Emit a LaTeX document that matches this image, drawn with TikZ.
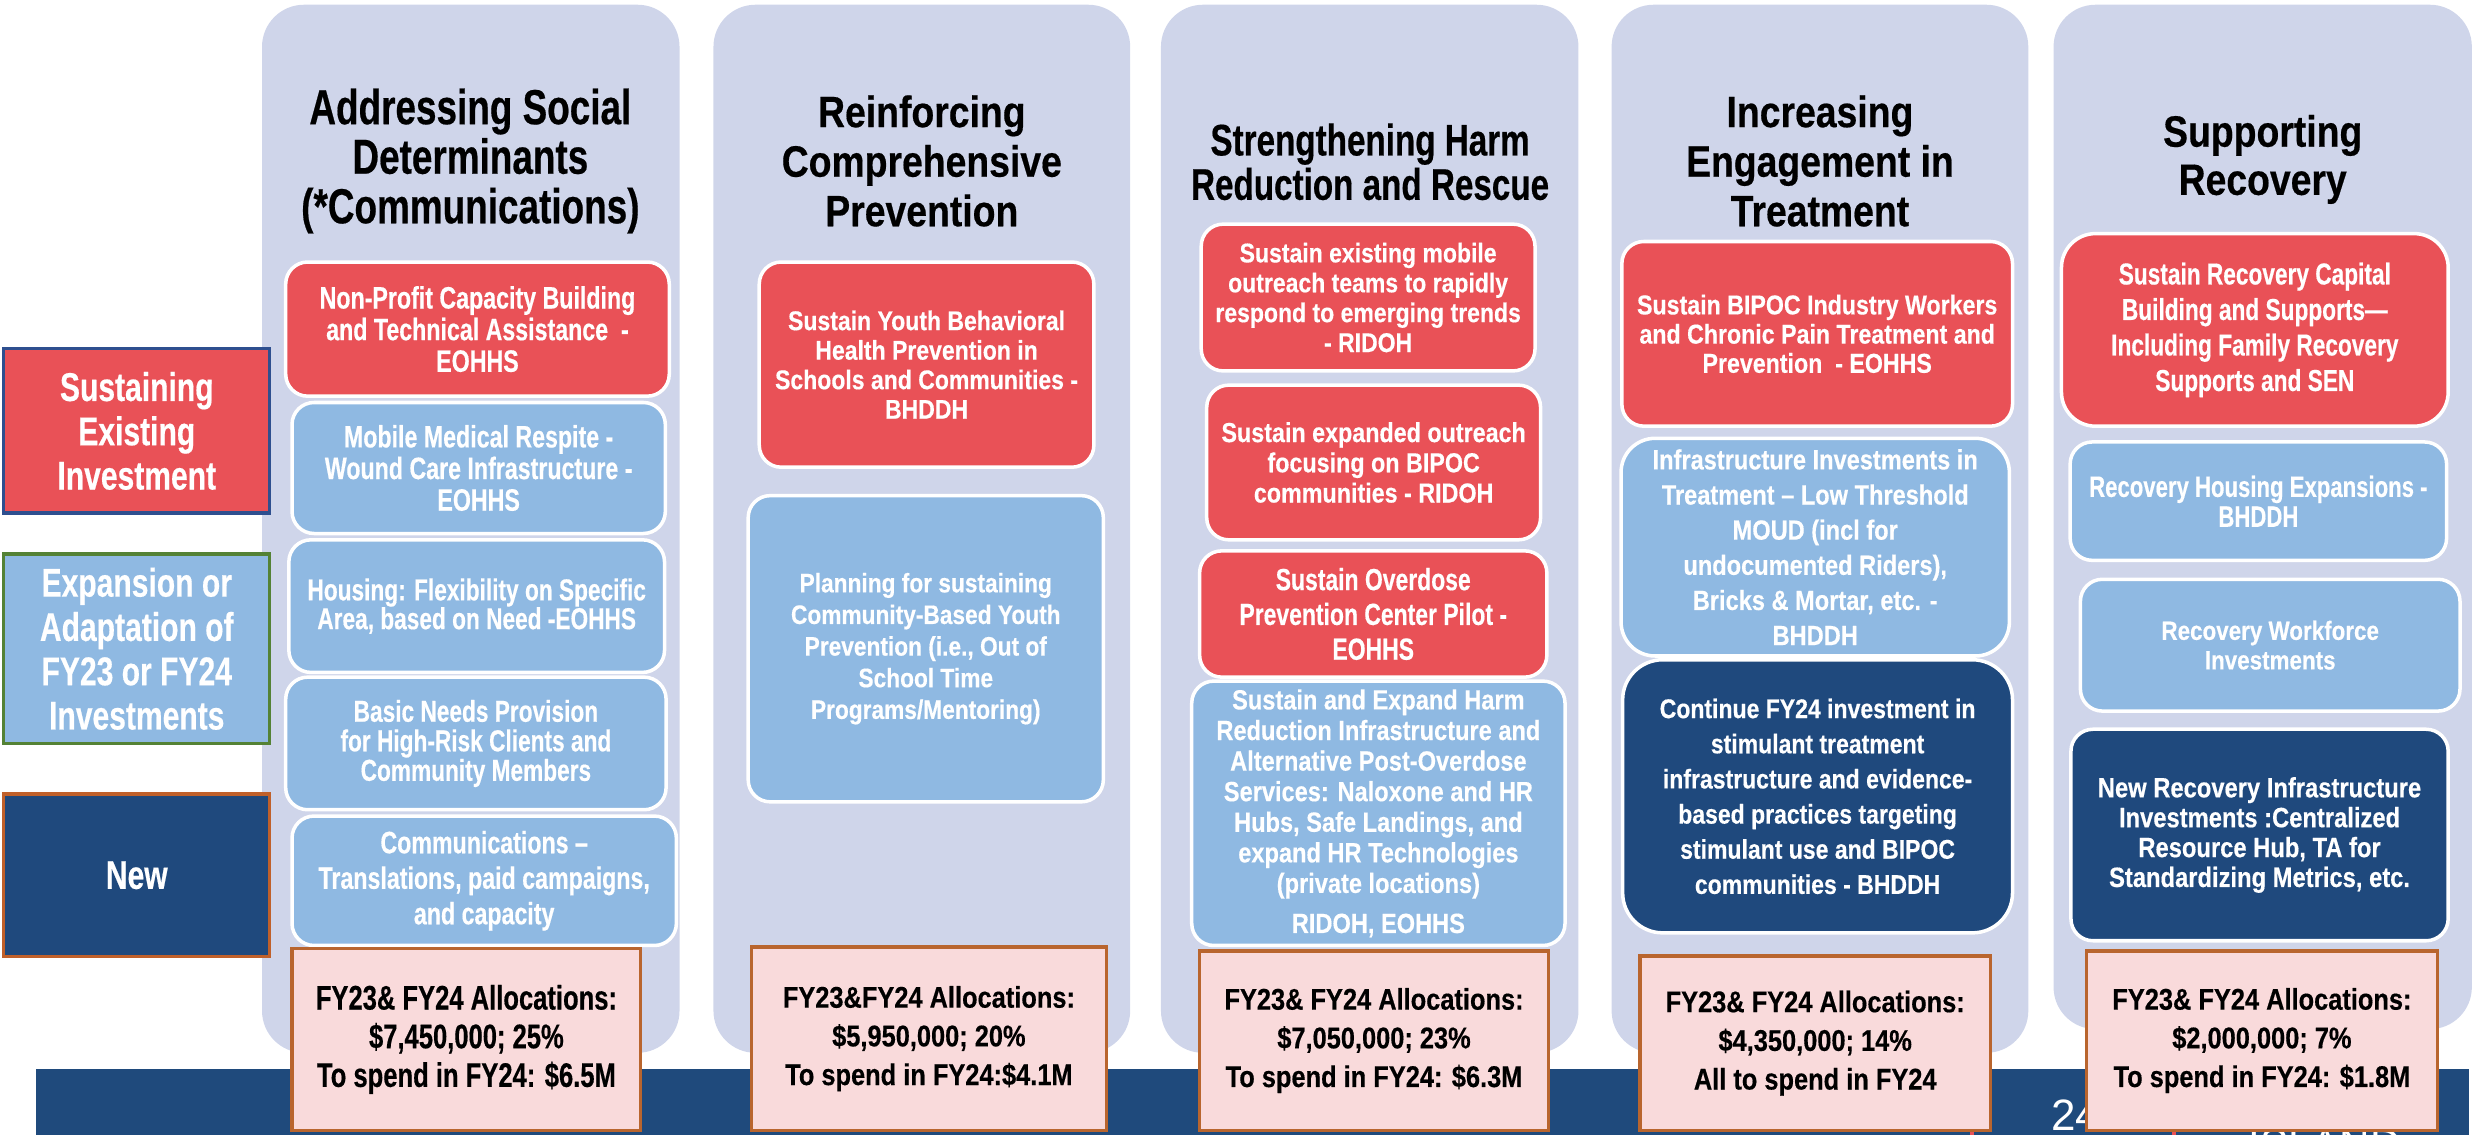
\documentclass[tikz,border=0pt]{standalone}
\usepackage{fontspec}
\setmainfont{Liberation Sans}
\newfontfamily\widefont{Liberation Sans}[FakeStretch=0.85, BoldFeatures={FakeBold=0.4}]
\newfontfamily\condfont{Liberation Sans}[FakeStretch=0.75, BoldFeatures={FakeBold=0.4}]
\usepackage{xcolor}
\definecolor{Pillar}{HTML}{CFD5EA}
\definecolor{SustainRed}{HTML}{E95157}
\definecolor{ExpandBlue}{HTML}{8FB9E2}
\definecolor{NewNavy}{HTML}{1F497D}
\definecolor{AllocPink}{HTML}{F9DADB}
\definecolor{AllocRim}{HTML}{B9652E}
\definecolor{BandBlue}{HTML}{1F4A7C}
\definecolor{RimBlue}{HTML}{2E4F8F}
\definecolor{RimGreen}{HTML}{548235}
\definecolor{RimOrange}{HTML}{C0602A}
\newcommand{\pu}{0.15784mm}
\newcommand{\Wf}[2]{\widefont\bfseries\fontsize{#1}{#2}\selectfont}
\newcommand{\Cf}[2]{\condfont\bfseries\fontsize{#1}{#2}\selectfont}

\begin{document}
\begin{tikzpicture}[x=0.15784mm,y=-0.15784mm,
  sz/.style 2 args={minimum width=#1*\pu, minimum height=#2*\pu},
  pillar/.style={fill=Pillar, rounded corners=4.2mm},
  cell/.style={draw=white, line width=1pt, rounded corners=2.2mm, align=center, text=white, inner sep=0pt},
  sustain/.style={cell, fill=SustainRed},
  expand/.style={cell, fill=ExpandBlue},
  fresh/.style={cell, fill=NewNavy},
  alloc/.style={fill=AllocPink, draw=AllocRim, line width=0.9pt, align=center, inner sep=0pt},
  ttl/.style={align=center, text=black, inner sep=0pt},
  lbl/.style={line width=0.9pt, align=center, text=white, inner sep=0pt, font=\Cf{11.4}{12.6}}]
\useasboundingbox (0,0) rectangle (1568,719);

%PILLARS
\fill[pillar] (166,3) rectangle (430.5,667);
\fill[pillar] (452,3) rectangle (716,667);
\fill[pillar] (735.5,3) rectangle (1000,667);
\fill[pillar] (1021,3) rectangle (1285,667);
\fill[pillar] (1301,3) rectangle (1566,652);
% footer band
\fill[BandBlue] (23,677) rectangle (1564,725);
\node[anchor=base west, inner sep=0pt, text=white, font=\fontsize{12.5}{14}\selectfont] (pagenum) at (1299,716) {24};
\node[anchor=base west, inner sep=0pt, text=white, font=\fontsize{12}{14}\selectfont] (logo) at (1424,734) {ISLAND};
\fill[SustainRed] (1248,713) rectangle (1250.5,725);
\fill[SustainRed] (1376,713) rectangle (1378.5,725);

%LEGEND
\node[lbl, sz={168.7}{104}, fill=SustainRed, draw=RimBlue] (keysustain) at (86.65,273) {Sustaining\\Existing\\Investment};
\node[lbl, sz={168.7}{120}, fill=ExpandBlue, draw=RimGreen] (keyexpand) at (86.65,411) {Expansion or\\Adaptation of\\FY23 or FY24\\Investments};
\node[lbl, sz={168.7}{103}, fill=NewNavy, draw=RimOrange] (keynew) at (86.65,554.5) {New};

%SOCIAL DETERMINANTS
\node[ttl, font=\Cf{14}{14.1}] (t1) at (298,102) {Addressing Social\\Determinants\\(*Communications)};
\node[sustain, sz={243}{85}, font=\Cf{8.8}{9}] (c1a) at (302.5,208.5) {Non-Profit Capacity Building\\and Technical Assistance~ -\\EOHHS};
\node[expand, sz={236.5}{83}, font=\Cf{8.8}{9}] (c1b) at (303.25,296.5) {Mobile Medical Respite -\\Wound Care Infrastructure -\\EOHHS};
\node[expand, sz={238}{84}, font=\Cf{8.6}{8.2}] (c1c) at (302,384) {Housing: Flexibility on Specific\\Area, based on Need -EOHHS};
\node[expand, sz={241}{84}, font=\Cf{8.6}{8.4}] (c1d) at (301.5,471) {Basic Needs Provision\\for High-Risk Clients and\\Community Members};
\node[expand, sz={243.5}{82}, font=\Cf{8.8}{10.1}] (c1e) at (306.75,558) {Communications –\\Translations, paid campaigns,\\and capacity};

%PREVENTION
\node[ttl, font=\Wf{12.5}{14.1}] (t2) at (584,102) {Reinforcing\\Comprehensive\\Prevention};
\node[sustain, sz={212}{130}, font=\Wf{7.7}{8.4}] (c2a) at (587,231) {Sustain Youth Behavioral\\Health Prevention in\\Schools and Communities -\\BHDDH};
\node[expand, sz={225}{194}, font=\Wf{7.6}{9}] (c2b) at (586.5,411) {Planning for sustaining\\Community-Based Youth\\Prevention (i.e., Out of\\School Time\\Programs/Mentoring)};

%HARM REDUCTION
\node[ttl, font=\Cf{12.6}{12.6}] (t3) at (868,102.5) {Strengthening Harm\\Reduction and Rescue};
\node[sustain, sz={211.5}{93}, font=\Wf{7.7}{8.5}] (c3a) at (866.75,188.5) {Sustain existing mobile\\outreach teams to rapidly\\respond to emerging trends\\- RIDOH};
\node[sustain, sz={211.5}{98}, font=\Wf{7.8}{8.6}] (c3b) at (870.25,293) {Sustain expanded outreach\\focusing on BIPOC\\communities - RIDOH};
\node[sustain, sz={220}{80}, font=\Cf{8.7}{9.9}] (c3c) at (870,389) {Sustain Overdose\\Prevention Center Pilot -\\EOHHS};
\node[expand, sz={236.5}{167.5}, font=\Wf{7.9}{8.7}] (c3d) at (873.25,515.25) {Sustain and Expand Harm\\Reduction Infrastructure and\\Alternative Post-Overdose\\Services: Naloxone and HR\\Hubs, Safe Landings, and\\expand HR Technologies\\(private locations)\\[2.7pt]RIDOH, EOHHS};

%TREATMENT
\node[ttl, font=\Wf{12.5}{14.1}] (t4) at (1153,102) {Increasing\\Engagement in\\Treatment};
\node[sustain, sz={247.5}{117}, font=\Wf{7.76}{8.3}] (c4a) at (1151.25,211.5) {Sustain BIPOC Industry Workers\\and Chronic Pain Treatment and\\Prevention~ - EOHHS};
\node[expand, sz={246}{137.9}, rounded corners=3.4mm, font=\Wf{7.9}{10}] (c4b) at (1150,346.65) {Infrastructure Investments in\\Treatment – Low Threshold\\MOUD (incl for\\undocumented Riders),\\Bricks \& Mortar, etc. -\\BHDDH};
\node[fresh, sz={247}{173}, rounded corners=4mm, font=\Wf{7.7}{10}] (c4c) at (1151.5,504.5) {Continue FY24 investment in\\stimulant treatment\\infrastructure and evidence-\\based practices targeting\\stimulant use and BIPOC\\communities - BHDDH};

%RECOVERY
\node[ttl, font=\Wf{12.5}{13.7}] (t5) at (1433.5,101) {Supporting\\Recovery};
\node[sustain, sz={245}{122}, rounded corners=3.4mm, font=\Cf{8.6}{10.1}] (c5a) at (1428.5,209) {Sustain Recovery Capital\\Building and Supports—\\Including Family Recovery\\Supports and SEN};
\node[expand, sz={238.5}{75}, font=\Cf{8.4}{8.5}] (c5b) at (1430.75,317.5) {Recovery Housing Expansions -\\BHDDH};
\node[expand, sz={240.5}{83.5}, font=\Wf{7.5}{8.4}] (c5c) at (1438.25,408.75) {Recovery Workforce\\Investments};
\node[fresh, sz={239}{134}, font=\Wf{7.95}{8.5}] (c5d) at (1431.5,529) {New Recovery Infrastructure\\Investments :Centralized\\Resource Hub, TA for\\Standardizing Metrics, etc.};

%ALLOCATIONS
\node[alloc, sz={221}{115}, font=\Cf{9.7}{11}] (a1) at (295.5,658.5) {FY23\& FY24 Allocations:\\\$7,450,000; 25\%\\To spend in FY24: \$6.5M};
\node[alloc, sz={225}{116}, font=\Wf{8.5}{11}] (a2) at (588.5,658) {FY23\&FY24 Allocations:\\\$5,950,000; 20\%\\To spend in FY24:\$4.1M};
\node[alloc, sz={221}{113.5}, font=\Wf{8.5}{11}] (a3) at (870.5,659.25) {FY23\& FY24 Allocations:\\\$7,050,000; 23\%\\To spend in FY24: \$6.3M};
\node[alloc, sz={222}{110.3}, font=\Wf{8.5}{11}] (a4) at (1150,660.85) {FY23\& FY24 Allocations:\\\$4,350,000; 14\%\\All to spend in FY24};
\node[alloc, sz={222}{113.5}, font=\Wf{8.5}{11}] (a5) at (1433,659.25) {FY23\& FY24 Allocations:\\\$2,000,000; 7\%\\To spend in FY24: \$1.8M};
\end{tikzpicture}
\end{document}
